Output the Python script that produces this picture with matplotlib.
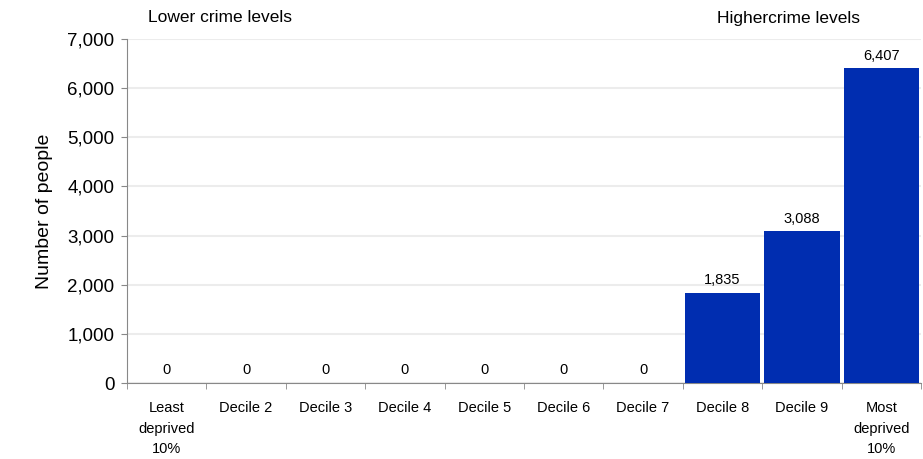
import matplotlib.pyplot as plt
import numpy as np

plt.rcParams['font.family'] = ['Liberation Sans', 'DejaVu Sans']

categories = ['Least\ndeprived\n10%', 'Decile 2', 'Decile 3', 'Decile 4', 'Decile 5',
              'Decile 6', 'Decile 7', 'Decile 8', 'Decile 9', 'Most\ndeprived\n10%']
people = [0, 0, 0, 0, 0, 0, 0, 1835, 3088, 6407]
bar_color = '#002DB0'

fig = plt.figure(figsize=(9.23, 4.59), dpi=100)
ax = fig.add_axes([127 / 923, 1 - 383 / 459, (921 - 127) / 923, (383 - 39) / 459])

x = np.arange(len(categories))
ax.bar(x, people, width=0.95, color=bar_color, zorder=3)
for xi, v in zip(x, people):
    ax.annotate(f'{v:,}', (xi, v), xytext=(0, 4), textcoords='offset points',
                ha='center', va='bottom', fontsize=10.5, color='black')

ax.set_xlim(-0.5, len(categories) - 0.5)
ax.set_ylim(0, 7000)
ax.set_yticks(np.arange(0, 7001, 1000))
ax.set_yticklabels([f'{v:,}' for v in range(0, 7001, 1000)], fontsize=13.5)
ax.yaxis.grid(True, color='#ececec', linewidth=1.5, zorder=0)

ax.set_xticks(x)
ax.set_xticklabels(categories, fontsize=10.5, linespacing=1.6, va='top')
ax.set_xticks(np.arange(-0.5, len(categories)), minor=True)
ax.tick_params(axis='x', which='major', length=0, pad=13)
ax.tick_params(axis='x', which='minor', length=4, color='#888888')
ax.tick_params(axis='y', length=4, color='#888888', pad=5)

for s in ['top', 'right']:
    ax.spines[s].set_visible(False)
ax.spines['left'].set_color('#888888')
ax.spines['bottom'].set_color('#888888')

ax.set_ylabel('Number of people', fontsize=14, labelpad=10)

fig.text(148 / 923, 1 - 18 / 459, 'Lower crime levels', fontsize=12.5, va='center', ha='left')
fig.text(860 / 923, 1 - 18 / 459, 'Highercrime levels', fontsize=12.5, va='center', ha='right')

fig.savefig('out.png', dpi=100)
